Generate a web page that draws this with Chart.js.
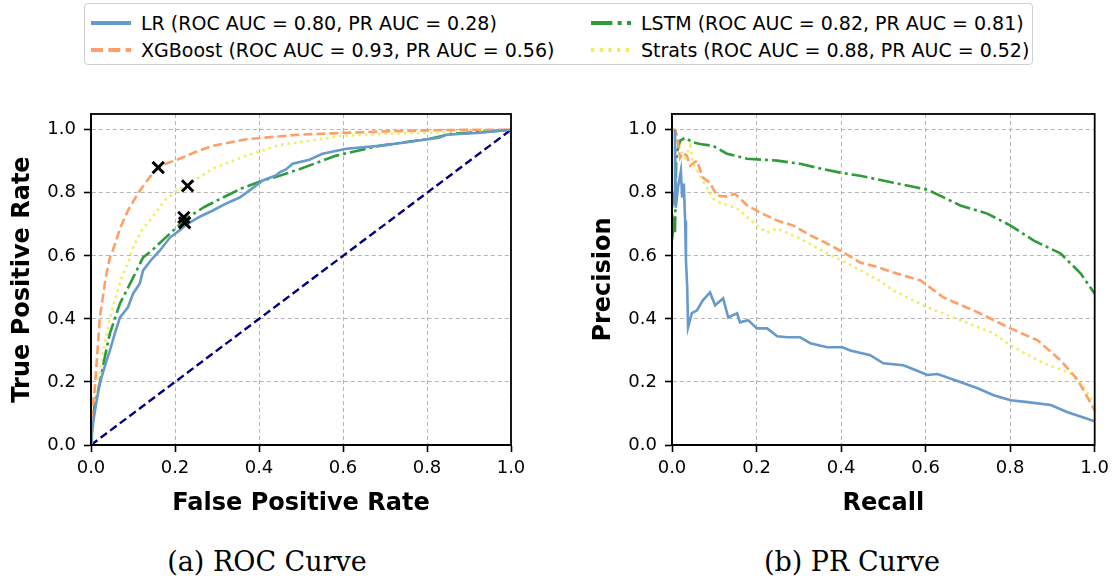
<!DOCTYPE html>
<html>
<head>
<meta charset="utf-8">
<script src="https://cdn.jsdelivr.net/npm/chart.js@4.4.1/dist/chart.umd.min.js"></script>
<style>
  body { margin: 0; background: #fff; width: 1112px; height: 576px; position: relative; overflow: hidden; font-family: "DejaVu Sans", sans-serif; }
  canvas { position: absolute; }
  #legend { position: absolute; left: 84px; top: 3px; width: 949px; height: 62px; border: 1px solid #d0d0d0; border-radius: 4px; box-sizing: border-box; }
  .item { position: absolute; font-size: 19px; line-height: 22px; white-space: nowrap; color: #000; }
  .item svg { position: absolute; left: -50px; top: 6px; }
  .cap { position: absolute; top: 545px; font-family: "DejaVu Serif", serif; font-size: 27px; line-height: 34px; text-align: center; width: 400px; }
</style>
</head>
<body>
<div id="legend"></div>
<canvas id="roc" width="556" height="440" style="left:0;top:80px"></canvas>
<canvas id="pr" width="559" height="440" style="left:556px;top:80px"></canvas>
<div class="cap" style="left:67px">(a) ROC Curve</div>
<div class="cap" style="left:652px">(b) PR Curve</div>
<script>
// series names + legend text
const models = ['LR', 'XGBoost', 'LSTM', 'Strats'];
const rocAuc = [0.80, 0.93, 0.82, 0.88];
const prAuc = [0.28, 0.56, 0.81, 0.52];
const colors = ['#6699cc', '#ff9f66', '#2e9a3a', '#eeee5e'];
const dashes = [[], [9, 4], [16, 4, 3, 4], [2.5, 4]];

// ROC curves
const rocLR_fpr = [0, 0.002, 0.005, 0.012, 0.021, 0.033, 0.045, 0.057, 0.069, 0.088, 0.1, 0.116, 0.124, 0.145, 0.164, 0.188, 0.21, 0.228, 0.26, 0.29, 0.32, 0.354, 0.38, 0.409, 0.44, 0.45, 0.465, 0.48, 0.52, 0.551, 0.608, 0.686, 0.76, 0.829, 0.845, 0.92, 1.0];
const rocLR_tpr = [0, 0.03, 0.07, 0.13, 0.196, 0.25, 0.30, 0.355, 0.405, 0.437, 0.48, 0.512, 0.554, 0.59, 0.617, 0.658, 0.68, 0.70, 0.725, 0.744, 0.765, 0.785, 0.81, 0.839, 0.855, 0.866, 0.875, 0.892, 0.905, 0.924, 0.94, 0.949, 0.962, 0.975, 0.984, 0.99, 1.0];
const rocXGB_fpr = [0, 0.003, 0.01, 0.021, 0.035, 0.045, 0.052, 0.07, 0.088, 0.116, 0.14, 0.157, 0.18, 0.211, 0.25, 0.29, 0.37, 0.49, 0.6, 0.7, 0.8, 0.9, 1.0];
const rocXGB_tpr = [0, 0.1, 0.196, 0.405, 0.53, 0.595, 0.617, 0.69, 0.744, 0.807, 0.85, 0.877, 0.893, 0.908, 0.93, 0.949, 0.97, 0.984, 0.99, 0.995, 0.998, 1.0, 1.0];
const rocLSTM_fpr = [0, 0.002, 0.008, 0.021, 0.033, 0.045, 0.069, 0.1, 0.124, 0.145, 0.188, 0.228, 0.27, 0.314, 0.36, 0.409, 0.449, 0.496, 0.584, 0.686, 0.805, 0.86, 0.93, 1.0];
const rocLSTM_tpr = [0, 0.057, 0.12, 0.196, 0.28, 0.354, 0.449, 0.53, 0.595, 0.617, 0.671, 0.72, 0.755, 0.785, 0.815, 0.839, 0.854, 0.875, 0.918, 0.949, 0.971, 0.987, 0.993, 1.0];
const rocStrats_fpr = [0, 0.004, 0.01, 0.017, 0.03, 0.045, 0.07, 0.093, 0.097, 0.12, 0.145, 0.175, 0.204, 0.235, 0.29, 0.37, 0.449, 0.49, 0.599, 0.7, 0.798, 0.9, 1.0];
const rocStrats_tpr = [0, 0.07, 0.13, 0.196, 0.3, 0.405, 0.52, 0.595, 0.617, 0.68, 0.72, 0.775, 0.807, 0.829, 0.877, 0.918, 0.952, 0.959, 0.981, 0.987, 0.99, 0.995, 1.0];

// chosen thresholds (black x markers)
const thrFpr = [0.16, 0.23, 0.221, 0.223];
const thrTpr = [0.88, 0.822, 0.722, 0.705];

// PR curves
const prLR_rec = [0, 0.005, 0.007, 0.009, 0.014, 0.021, 0.024, 0.028, 0.031, 0.033, 0.036, 0.038, 0.047, 0.059, 0.073, 0.09, 0.102, 0.121, 0.133, 0.154, 0.161, 0.18, 0.201, 0.225, 0.249, 0.273, 0.303, 0.327, 0.367, 0.403, 0.422, 0.469, 0.5, 0.547, 0.564, 0.604, 0.628, 0.682, 0.723, 0.761, 0.801, 0.841, 0.896, 0.936, 1.0];
const prLR_prec = [0.75, 0.8, 1.0, 0.753, 0.816, 0.87, 0.785, 0.829, 0.712, 0.585, 0.5, 0.373, 0.418, 0.427, 0.459, 0.484, 0.443, 0.465, 0.405, 0.418, 0.389, 0.396, 0.37, 0.37, 0.345, 0.342, 0.342, 0.323, 0.31, 0.31, 0.30, 0.285, 0.259, 0.253, 0.244, 0.222, 0.225, 0.2, 0.18, 0.158, 0.142, 0.136, 0.127, 0.104, 0.075];
const prXGB_rec = [0, 0.007, 0.012, 0.019, 0.026, 0.035, 0.043, 0.059, 0.073, 0.09, 0.106, 0.13, 0.149, 0.178, 0.209, 0.249, 0.287, 0.327, 0.367, 0.405, 0.445, 0.486, 0.524, 0.588, 0.642, 0.723, 0.801, 0.865, 0.919, 0.96, 1.0];
const prXGB_prec = [1.0, 1.0, 0.98, 0.911, 0.927, 0.918, 0.886, 0.902, 0.848, 0.832, 0.791, 0.788, 0.797, 0.76, 0.737, 0.712, 0.696, 0.665, 0.639, 0.611, 0.579, 0.565, 0.547, 0.522, 0.468, 0.421, 0.37, 0.332, 0.269, 0.206, 0.11];
const prLSTM_rec = [0, 0.004, 0.007, 0.01, 0.012, 0.019, 0.031, 0.05, 0.066, 0.097, 0.13, 0.178, 0.249, 0.303, 0.351, 0.398, 0.445, 0.524, 0.604, 0.682, 0.746, 0.801, 0.855, 0.919, 0.967, 1.0];
const prLSTM_prec = [0.65, 0.7, 0.67, 0.9, 0.93, 0.965, 0.975, 0.96, 0.955, 0.949, 0.924, 0.908, 0.902, 0.892, 0.877, 0.864, 0.854, 0.832, 0.81, 0.76, 0.734, 0.696, 0.649, 0.608, 0.544, 0.48];
const prStrats_rec = [0, 0.007, 0.019, 0.031, 0.043, 0.05, 0.073, 0.097, 0.114, 0.154, 0.201, 0.225, 0.249, 0.303, 0.367, 0.415, 0.445, 0.493, 0.524, 0.604, 0.682, 0.761, 0.801, 0.879, 0.943, 0.974, 1.0];
const prStrats_prec = [1.0, 1.0, 0.943, 0.911, 0.949, 0.892, 0.839, 0.782, 0.769, 0.75, 0.696, 0.674, 0.687, 0.655, 0.608, 0.576, 0.554, 0.52, 0.49, 0.437, 0.396, 0.354, 0.316, 0.259, 0.228, 0.184, 0.13];

const tickVals = [0, 0.2, 0.4, 0.6, 0.8, 1.0];

const zip = (xs, ys) => xs.map((x, i) => ({ x: x, y: ys[i] }));

// legend (html, spans both panels)
const legPos = [[140, 8], [640, 8], [140, 35], [640, 35]];
const legOrder = [0, 2, 1, 3];
const legend = document.getElementById('legend');
legOrder.forEach((m, k) => {
  const d = document.createElement('div');
  d.className = 'item';
  d.style.left = (legPos[k][0] - 84) + 'px';
  d.style.top = legPos[k][1] + 'px';
  d.textContent = models[m] + ' (ROC AUC = ' + rocAuc[m].toFixed(2) + ', PR AUC = ' + prAuc[m].toFixed(2) + ')';
  const svg = '<svg width="40" height="10"><line x1="0" y1="5" x2="40" y2="5" stroke="' + colors[m] +
    '" stroke-width="4" stroke-dasharray="' + (dashes[m].length ? dashes[m].map(v => v * 4 / 3).join(' ') : 'none') + '"/></svg>';
  d.insertAdjacentHTML('afterbegin', svg);
  legend.appendChild(d);
});

const frame = {
  id: 'frame',
  afterDatasetsDraw(chart) {
    const a = chart.chartArea, ctx = chart.ctx;
    ctx.save();
    ctx.setLineDash([]);
    ctx.strokeStyle = '#000';
    ctx.lineWidth = 1.8;
    ctx.strokeRect(a.left, a.top, a.right - a.left, a.bottom - a.top);
    ctx.restore();
  }
};

function line(data, i) {
  return {
    data: data, borderColor: colors[i], borderDash: dashes[i], borderWidth: 2.6,
    pointRadius: 0, tension: 0, fill: false
  };
}

function scales(xTitle, yTitle) {
  const tickFont = { family: 'DejaVu Sans', size: 18 };
  const titleFont = { family: 'DejaVu Sans', size: 24, weight: 'bold' };
  const grid = { color: '#b5b5b5', lineWidth: 1, tickLength: 7, tickColor: '#000', tickWidth: 1.6, tickBorderDash: [] };
  const border = { color: '#000', width: 1.8, dash: [4, 3] };
  const keep = s => { s.ticks = tickVals.map(v => ({ value: v })); };
  return {
    x: {
      type: 'linear', min: 0, max: 1,
      afterBuildTicks: keep,
      afterFit: s => { s.height = 75; },
      grid: grid, border: border,
      ticks: { font: tickFont, color: '#000', padding: 6, maxRotation: 0, callback: v => v.toFixed(1) },
      title: { display: true, text: xTitle, font: titleFont, color: '#000', padding: { top: 0, bottom: 2 } }
    },
    y: {
      type: 'linear', min: 0, max: 1.05,
      afterBuildTicks: keep,
      afterFit: s => { s.width = 91; },
      grid: grid, border: border,
      ticks: { font: tickFont, color: '#000', padding: 8, callback: v => v.toFixed(1) },
      title: { display: true, text: yTitle, font: titleFont, color: '#000', padding: { top: 8, bottom: 0 } }
    }
  };
}

const common = (xT, yT, padLeft, padRight) => ({
  responsive: false, animation: false, devicePixelRatio: 1,
  layout: { padding: { left: padLeft, right: padRight, top: 34, bottom: 0 } },
  plugins: { legend: { display: false }, tooltip: { enabled: false } },
  scales: scales(xT, yT)
});

new Chart(document.getElementById('roc'), {
  type: 'line',
  data: {
    datasets: [
      { type: 'scatter', data: zip(thrFpr, thrTpr), pointStyle: 'crossRot', pointRadius: 8, borderColor: '#000', borderWidth: 3, showLine: false },
      line(zip(rocLR_fpr, rocLR_tpr), 0),
      line(zip(rocXGB_fpr, rocXGB_tpr), 1),
      line(zip(rocLSTM_fpr, rocLSTM_tpr), 2),
      line(zip(rocStrats_fpr, rocStrats_tpr), 3),
      { data: zip([0, 1], [0, 1]), borderColor: '#000080', borderDash: [8, 4], borderWidth: 2.4, pointRadius: 0 }
    ]
  },
  options: common('False Positive Rate', 'True Positive Rate', 0, 45),
  plugins: [frame]
});

new Chart(document.getElementById('pr'), {
  type: 'line',
  data: {
    datasets: [
      line(zip(prLR_rec, prLR_prec), 0),
      line(zip(prXGB_rec, prXGB_prec), 1),
      line(zip(prLSTM_rec, prLSTM_prec), 2),
      line(zip(prStrats_rec, prStrats_prec), 3)
    ]
  },
  options: common('Recall', 'Precision', 25, 17),
  plugins: [frame]
});
</script>
</body>
</html>
